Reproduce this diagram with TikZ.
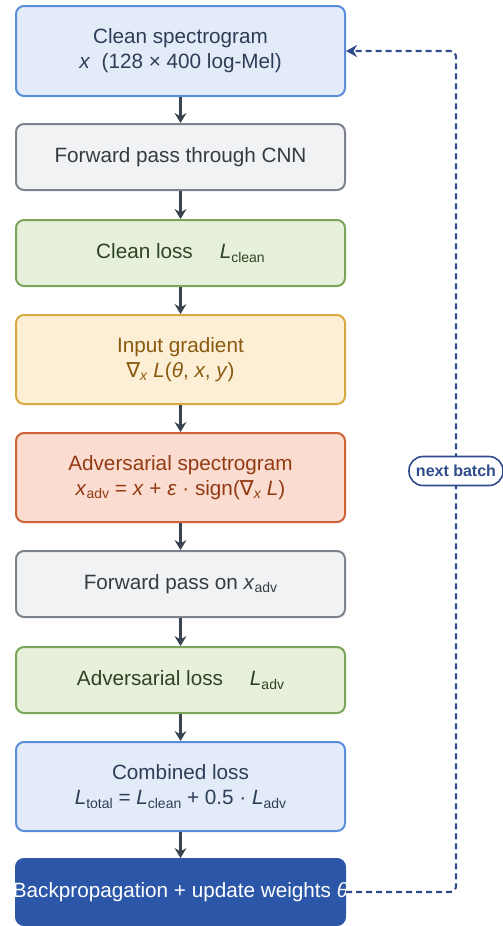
\documentclass[tikz,border=0pt]{standalone}
\usepackage{fontspec}
\setmainfont{Liberation Sans}
\newfontfamily\djv{DejaVu Sans}
\usetikzlibrary{arrows.meta}
\definecolor{bluefill}{HTML}{E3EBF8}
\definecolor{blueline}{HTML}{5A8ED8}
\definecolor{bluetext}{HTML}{2E3D57}
\definecolor{grayfill}{HTML}{F1F2F4}
\definecolor{grayline}{HTML}{7C838C}
\definecolor{graytext}{HTML}{363B42}
\definecolor{greenfill}{HTML}{E6F0DA}
\definecolor{greenline}{HTML}{7BA65A}
\definecolor{greentext}{HTML}{2F4424}
\definecolor{yelfill}{HTML}{FCEFD5}
\definecolor{yelline}{HTML}{D9A941}
\definecolor{yeltext}{HTML}{8A5A10}
\definecolor{orfill}{HTML}{FADDD0}
\definecolor{orline}{HTML}{CE6338}
\definecolor{ortext}{HTML}{933A14}
\definecolor{darkfill}{HTML}{2C57A8}
\definecolor{arrowcol}{HTML}{3A4450}
\definecolor{loopcol}{HTML}{2F4B8C}
\newcommand\mysub[1]{\raisebox{-0.3ex}{\fontsize{14}{14}\selectfont\upshape #1}}
\newcommand\nab{{\djv ∇}}
\begin{document}
\begin{tikzpicture}[x=1pt,y=-1pt,
  base/.style={rectangle, rounded corners=8pt, line width=2pt, minimum width=329pt, align=center,
    font=\fontsize{20.7}{25}\selectfont, inner sep=0pt},
  short/.style={minimum height=66pt},
  tall/.style={minimum height=89pt},
  bluebox/.style={base, fill=bluefill, draw=blueline, text=bluetext},
  graybox/.style={base, fill=grayfill, draw=grayline, text=graytext},
  greenbox/.style={base, fill=greenfill, draw=greenline, text=greentext},
  yelbox/.style={base, fill=yelfill, draw=yelline, text=yeltext},
  orbox/.style={base, fill=orfill, draw=orline, text=ortext},
  darkbox/.style={base, fill=darkfill, draw=darkfill, text=white},
  flow/.style={draw=arrowcol, line width=2.3pt, -{Stealth[length=10pt,width=12pt,inset=3.5pt]}},
  loopline/.style={draw=loopcol, line width=2.1pt, dash pattern=on 6pt off 4pt, rounded corners=6pt,
    -{Stealth[length=11pt,width=12pt,inset=3.5pt]}},
  pill/.style={draw=loopcol, fill=white, line width=1.6pt, rounded corners=14pt, text=loopcol,
    font=\fontsize{16}{18}\selectfont\bfseries, minimum height=29pt, minimum width=94pt, inner sep=2pt}
]
\useasboundingbox (0,0) rectangle (503,926);
\node[bluebox, minimum height=90pt] (b1) at (180.5,51) {Clean spectrogram\\\textit{x}\hspace{0.55em}(128 × 400 log-Mel)};
\node[graybox, short] (b2) at (180.5,157) {Forward pass through CNN};
\node[greenbox, short] (b3) at (180.5,253) {Clean loss\hspace{1.3em}\textit{L}\mysub{clean}};
\node[yelbox, tall] (b4) at (180.5,359.5) {Input gradient\\\nab\mysub{\textit{x}} \textit{L}(\textit{θ}, \textit{x}, \textit{y})};
\node[orbox, tall] (b5) at (180.5,477.5) {Adversarial spectrogram\\\textit{x}\mysub{adv} = \textit{x} + \textit{ε} · sign(\nab\mysub{\textit{x}} \textit{L})};
\node[graybox, short] (b6) at (180.5,584) {Forward pass on \textit{x}\mysub{adv}};
\node[greenbox, short] (b7) at (180.5,680) {Adversarial loss\hspace{1.3em}\textit{L}\mysub{adv}};
\node[bluebox, tall] (b8) at (180.5,786.5) {Combined loss\\\textit{L}\mysub{total} = \textit{L}\mysub{clean} + 0.5 · \textit{L}\mysub{adv}};
\node[darkbox, short] (b9) at (180.5,892) {};
\begin{scope}
  \clip[rounded corners=8pt] (b9.south west) rectangle (b9.north east);
  \node[text=white, font=\fontsize{20.7}{25}\selectfont, inner sep=0pt] (t9) at (b9.center) {Backpropagation + update weights \textit{θ}};
\end{scope}
\foreach \a/\b in {b1/b2,b2/b3,b3/b4,b4/b5,b5/b6,b6/b7,b7/b8,b8/b9}
  \draw[flow] (\a.south) -- (\b.north);
\coordinate (lp) at (456,471);
\draw[loopline] (b9.east) -| (lp) |- (b1.east);
\node[pill] (nb) at (lp) {next batch};
\end{tikzpicture}
\end{document}
